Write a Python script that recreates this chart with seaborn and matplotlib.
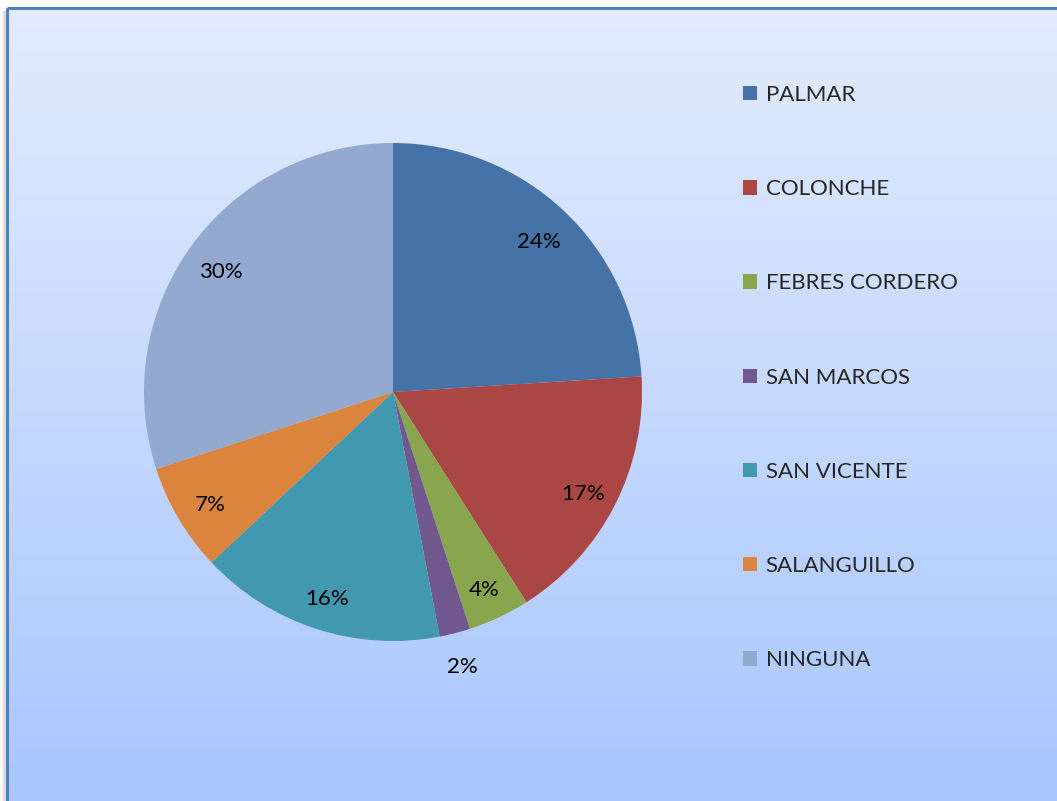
import numpy as np
import matplotlib
matplotlib.use("Agg")
import matplotlib.pyplot as plt
import seaborn as sns
from matplotlib.patches import Rectangle, Patch

categories = ["PALMAR", "COLONCHE", "FEBRES CORDERO", "SAN MARCOS",
              "SAN VICENTE", "SALANGUILLO", "NINGUNA"]
values = [24, 17, 4, 2, 16, 7, 30]
colors_hex = ["#4572A7", "#AA4643", "#89A54E", "#71588F",
              "#4198AF", "#DB843D", "#93A9CF"]

sns.set_theme(style="white")
plt.rcParams['font.family'] = ['Lato', 'DejaVu Sans']
palette = sns.color_palette(colors_hex)

W, H = 1057, 801
fig = plt.figure(figsize=(W / 100, H / 100), dpi=100)
fig.patch.set_facecolor("white")

# background gradient panel
bg = fig.add_axes([0, 0, 1, 1], zorder=-2)
bg.set_xlim(0, W)
bg.set_ylim(H, 0)
bg.axis("off")
top = np.array([0xE3, 0xEC, 0xFD]) / 255
bot = np.array([0xA8, 0xC6, 0xFE]) / 255
t = np.linspace(0, 1, 256)[:, None, None]
grad = top * (1 - t) + bot * t
grad = np.repeat(grad, 2, axis=1)
bg.add_patch(Rectangle((3, 11), 6, H, color="#dcdcdc", lw=0, zorder=0))
bg.imshow(grad, extent=[7, W + 5, H + 5, 8], aspect="auto", zorder=1)
bg.add_patch(Rectangle((7, 8), W, H, fill=False, ec="#4F81BD", lw=2.2, zorder=2))

# pie
cx, cy, r = 393, 392, 249
ax = fig.add_axes([(cx - r) / W, (H - cy - r) / H, 2 * r / W, 2 * r / H])
ax.set_facecolor("none")
wedges, _ = ax.pie(values, colors=palette, startangle=90, counterclock=False,
                   radius=1.0, wedgeprops=dict(linewidth=0))
ax.set_xlim(-1, 1)
ax.set_ylim(-1, 1)
ax.set_aspect("equal")
ax.axis("off")

total = sum(values)
for w, v in zip(wedges, values):
    ang = np.deg2rad((w.theta1 + w.theta2) / 2)
    d = 1.12 if v / total < 0.03 else 0.855
    ax.text(d * np.cos(ang), d * np.sin(ang) - 0.02, f"{v}%", ha="center",
            va="center", fontsize=16, color="black")

handles = [Patch(facecolor=c, edgecolor="none") for c in palette]
leg = fig.legend(handles, categories, loc="upper left",
                 bbox_to_anchor=(743 / W, 1 - 85 / H),
                 frameon=False, fontsize=16, labelspacing=3.34,
                 handlelength=0.62, handleheight=0.62, handletextpad=0.4,
                 borderaxespad=0, borderpad=0)

fig.savefig("out.png", dpi=100)
